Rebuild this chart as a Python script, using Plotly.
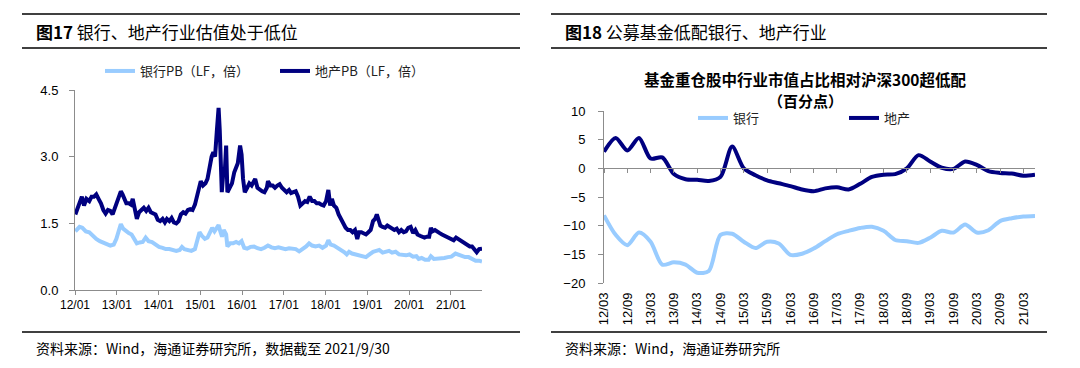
import plotly.graph_objects as go

# ---------------- data: left chart (PB, LF) ----------------
re_dates = [
    "2012-01-04", "2012-01-20", "2012-02-15", "2012-03-01", "2012-03-20", "2012-04-10", "2012-05-05", "2012-05-25",
    "2012-06-15", "2012-07-05", "2012-07-25", "2012-08-15", "2012-09-05", "2012-09-25", "2012-10-15", "2012-11-05",
    "2012-11-25", "2012-12-10", "2012-12-25", "2013-01-15", "2013-02-05", "2013-02-20", "2013-03-05", "2013-03-25",
    "2013-04-15", "2013-05-05", "2013-05-20", "2013-06-05", "2013-06-25", "2013-07-15", "2013-08-05", "2013-08-25",
    "2013-09-15", "2013-10-05", "2013-10-25", "2013-11-15", "2013-12-05", "2013-12-25", "2014-01-15", "2014-02-05",
    "2014-02-25", "2014-03-15", "2014-04-05", "2014-04-25", "2014-05-15", "2014-06-05", "2014-06-25", "2014-07-15",
    "2014-08-05", "2014-08-25", "2014-09-15", "2014-10-05", "2014-10-25", "2014-11-15", "2014-12-05", "2014-12-20",
    "2015-01-05", "2015-01-25", "2015-02-15", "2015-03-05", "2015-03-25", "2015-04-10", "2015-04-25", "2015-05-10",
    "2015-05-25", "2015-06-10", "2015-06-20", "2015-07-01", "2015-07-08", "2015-07-20", "2015-08-05", "2015-08-15",
    "2015-08-26", "2015-09-15", "2015-10-05", "2015-10-25", "2015-11-10", "2015-11-25", "2015-12-15", "2015-12-28",
    "2016-01-10", "2016-01-25", "2016-02-15", "2016-03-05", "2016-03-25", "2016-04-10", "2016-04-25", "2016-05-15",
    "2016-06-05", "2016-06-25", "2016-07-15", "2016-08-05", "2016-08-15", "2016-09-05", "2016-09-25", "2016-10-15",
    "2016-11-05", "2016-11-25", "2016-12-15", "2017-01-05", "2017-01-25", "2017-02-15", "2017-03-05", "2017-03-25",
    "2017-04-15", "2017-05-05", "2017-05-25", "2017-06-15", "2017-07-05", "2017-07-25", "2017-08-15", "2017-09-05",
    "2017-09-25", "2017-10-15", "2017-11-05", "2017-11-25", "2017-12-15", "2018-01-05", "2018-01-25", "2018-02-10",
    "2018-02-25", "2018-03-15", "2018-04-05", "2018-04-25", "2018-05-15", "2018-06-05", "2018-06-25", "2018-07-15",
    "2018-08-05", "2018-08-25", "2018-09-15", "2018-10-05", "2018-10-20", "2018-11-10", "2018-11-30", "2018-12-20",
    "2019-01-10", "2019-01-30", "2019-02-20", "2019-03-10", "2019-03-25", "2019-04-10", "2019-04-25", "2019-05-15",
    "2019-06-05", "2019-06-25", "2019-07-15", "2019-08-05", "2019-08-25", "2019-09-15", "2019-10-05", "2019-10-25",
    "2019-11-15", "2019-12-05", "2019-12-25", "2020-01-15", "2020-02-05", "2020-02-25", "2020-03-15", "2020-04-05",
    "2020-04-25", "2020-05-15", "2020-06-05", "2020-06-25", "2020-07-10", "2020-07-25", "2020-08-15", "2020-09-05",
    "2020-09-25", "2020-10-15", "2020-11-05", "2020-11-25", "2020-12-15", "2021-01-05", "2021-01-25", "2021-02-15",
    "2021-03-05", "2021-03-25", "2021-04-15", "2021-05-05", "2021-05-25", "2021-06-15", "2021-07-05", "2021-07-25",
    "2021-08-15", "2021-09-05", "2021-09-30",
]
re_pb = [
    1.70, 1.80, 1.95, 2.10, 1.90, 2.05, 2.00, 2.10,
    2.10, 2.15, 2.05, 1.95, 1.80, 1.72, 1.80, 1.78,
    1.70, 1.80, 1.95, 2.10, 2.22, 2.15, 2.05, 1.95,
    1.95, 1.92, 2.05, 1.85, 1.60, 1.75, 1.80, 1.85,
    1.78, 1.85, 1.75, 1.72, 1.70, 1.58, 1.55, 1.60,
    1.52, 1.60, 1.55, 1.62, 1.52, 1.50, 1.55, 1.70,
    1.75, 1.72, 1.80, 1.82, 1.80, 1.92, 2.15, 2.35,
    2.45, 2.35, 2.40, 2.50, 2.80, 3.00, 3.10, 3.00,
    3.55, 4.10, 3.60, 2.80, 2.20, 2.60, 2.75, 3.25,
    2.20, 2.30, 2.40, 2.65, 2.75, 2.85, 3.25, 3.05,
    2.50, 2.20, 2.30, 2.40, 2.35, 2.45, 2.50, 2.30,
    2.25, 2.22, 2.20, 2.30, 2.45, 2.35, 2.35, 2.30,
    2.35, 2.38, 2.30, 2.25, 2.20, 2.25, 2.18, 2.20,
    2.22, 2.10, 1.90, 1.95, 2.00, 1.98, 2.10, 2.00,
    2.00, 1.95, 1.95, 1.92, 1.90, 2.00, 2.25, 1.90,
    2.05, 1.90, 1.85, 1.70, 1.60, 1.50, 1.40, 1.35,
    1.35, 1.30, 1.35, 1.15, 1.30, 1.30, 1.28, 1.25,
    1.30, 1.35, 1.55, 1.60, 1.70, 1.60, 1.45, 1.42,
    1.40, 1.45, 1.42, 1.38, 1.35, 1.38, 1.30, 1.35,
    1.30, 1.32, 1.40, 1.42, 1.28, 1.35, 1.25, 1.22,
    1.20, 1.18, 1.20, 1.20, 1.40, 1.32, 1.35, 1.30,
    1.28, 1.25, 1.22, 1.20, 1.18, 1.15, 1.12, 1.18,
    1.15, 1.10, 1.08, 1.05, 1.02, 0.98, 0.98, 0.92,
    0.85, 0.92, 0.93,
]

bank_dates = [
    "2012-01-04", "2012-02-10", "2012-03-05", "2012-04-05", "2012-05-05", "2012-06-05", "2012-07-05", "2012-08-05",
    "2012-09-05", "2012-10-05", "2012-11-05", "2012-12-05", "2012-12-28", "2013-01-20", "2013-02-05", "2013-02-25",
    "2013-03-20", "2013-04-15", "2013-05-10", "2013-06-05", "2013-06-25", "2013-07-20", "2013-08-15", "2013-09-10",
    "2013-10-05", "2013-11-05", "2013-12-05", "2014-01-05", "2014-02-05", "2014-03-05", "2014-04-05", "2014-05-05",
    "2014-06-05", "2014-07-05", "2014-07-25", "2014-08-15", "2014-09-15", "2014-10-15", "2014-11-15", "2014-12-05",
    "2014-12-25", "2015-01-15", "2015-02-10", "2015-03-05", "2015-03-25", "2015-04-15", "2015-05-05", "2015-05-25",
    "2015-06-10", "2015-06-25", "2015-07-10", "2015-07-25", "2015-08-15", "2015-08-26", "2015-09-20", "2015-10-15",
    "2015-11-10", "2015-12-05", "2015-12-28", "2016-01-20", "2016-02-15", "2016-03-15", "2016-04-15", "2016-05-15",
    "2016-06-15", "2016-07-15", "2016-08-15", "2016-09-15", "2016-10-15", "2016-11-15", "2016-12-15", "2017-01-15",
    "2017-02-15", "2017-03-15", "2017-04-15", "2017-05-15", "2017-06-15", "2017-07-15", "2017-08-10", "2017-09-05",
    "2017-10-05", "2017-11-05", "2017-12-05", "2018-01-05", "2018-01-25", "2018-02-15", "2018-03-15", "2018-04-15",
    "2018-05-15", "2018-06-15", "2018-07-05", "2018-07-25", "2018-08-20", "2018-09-20", "2018-10-20", "2018-11-20",
    "2018-12-20", "2019-01-20", "2019-02-20", "2019-03-20", "2019-04-15", "2019-05-15", "2019-06-15", "2019-07-10",
    "2019-08-05", "2019-09-05", "2019-10-05", "2019-11-05", "2019-12-05", "2020-01-05", "2020-02-05", "2020-03-05",
    "2020-03-25", "2020-04-20", "2020-05-20", "2020-06-20", "2020-07-10", "2020-08-05", "2020-09-05", "2020-10-05",
    "2020-11-05", "2020-12-05", "2021-01-05", "2021-02-10", "2021-03-05", "2021-04-05", "2021-05-05", "2021-06-05",
    "2021-07-05", "2021-08-05", "2021-09-05", "2021-09-30",
]
bank_pb = [
    1.32, 1.42, 1.40, 1.32, 1.30, 1.22, 1.15, 1.10,
    1.07, 1.05, 1.00, 1.02, 1.15, 1.35, 1.48, 1.38,
    1.32, 1.28, 1.25, 1.15, 1.05, 1.07, 1.08, 1.18,
    1.10, 1.08, 1.02, 0.97, 0.95, 0.92, 0.92, 0.90,
    0.88, 0.90, 0.97, 0.92, 0.90, 0.88, 0.92, 1.15,
    1.30, 1.22, 1.15, 1.18, 1.30, 1.40, 1.32, 1.38,
    1.46, 1.32, 1.20, 1.35, 1.25, 0.98, 1.05, 1.05,
    1.08, 1.05, 1.10, 0.95, 0.93, 0.97, 0.98, 0.94,
    0.92, 0.95, 1.00, 0.96, 0.94, 0.96, 0.93, 0.92,
    0.94, 0.93, 0.92, 0.87, 0.92, 0.98, 1.05, 1.00,
    0.98, 1.00, 0.95, 1.00, 1.12, 1.02, 1.00, 0.95,
    0.92, 0.85, 0.80, 0.86, 0.82, 0.80, 0.80, 0.78,
    0.74, 0.80, 0.86, 0.88, 0.90, 0.84, 0.85, 0.88,
    0.84, 0.86, 0.80, 0.78, 0.78, 0.80, 0.75, 0.76,
    0.70, 0.72, 0.68, 0.68, 0.76, 0.70, 0.70, 0.72,
    0.72, 0.74, 0.75, 0.82, 0.80, 0.76, 0.74, 0.74,
    0.70, 0.66, 0.66, 0.64,
]
left_tick_dates = ["2012-01-01", "2013-01-01", "2014-01-01", "2015-01-01", "2016-01-01",
                   "2017-01-01", "2018-01-01", "2019-01-01", "2020-01-01", "2021-01-01"]
left_tick_text = ["12/01", "13/01", "14/01", "15/01", "16/01", "17/01", "18/01", "19/01", "20/01", "21/01"]
left_y_ticks = [0.0, 1.5, 3.0, 4.5]

# ---------------- data: right chart (quarterly, pct pts) ----------------
quarters = [
    "12/03", "12/06", "12/09", "12/12", "13/03", "13/06", "13/09", "13/12",
    "14/03", "14/06", "14/09", "14/12", "15/03", "15/06", "15/09", "15/12",
    "16/03", "16/06", "16/09", "16/12", "17/03", "17/06", "17/09", "17/12",
    "18/03", "18/06", "18/09", "18/12", "19/03", "19/06", "19/09", "19/12",
    "20/03", "20/06", "20/09", "20/12", "21/03", "21/06",
]
bank_ow = [
    -8.2, -11.6, -13.4, -11.2, -12.8, -16.8, -16.4, -16.8,
    -18.2, -17.9, -11.6, -11.4, -12.8, -13.9, -12.8, -13.1,
    -15.1, -14.9, -14.0, -12.7, -11.5, -10.9, -10.4, -10.2,
    -10.9, -12.5, -12.7, -13.0, -12.1, -10.9, -11.2, -9.8,
    -11.2, -10.8, -9.2, -8.7, -8.4, -8.3,
]
re_ow = [
    2.9, 5.3, 3.1, 5.3, 1.7, 1.9, -1.0, -1.9,
    -2.0, -2.2, -1.5, 3.8, 0.0, -1.2, -2.1, -2.6,
    -3.1, -3.7, -4.0, -3.5, -3.3, -3.7, -2.7, -1.5,
    -1.1, -1.0, 0.0, 2.3, 1.2, 0.1, -0.1, 1.2,
    0.6, -0.5, -0.8, -0.9, -1.3, -1.1,
]
right_tick_labels = quarters[0:37:2]
right_y_ticks = [-20, -15, -10, -5, 0, 5, 10]

# ---------------- figure ----------------
# the page body keeps its default 8px margin, so the figure is 8px in from the window edges
OFF = 8
W, H = 1080 - 2 * OFF, 368 - 2 * OFF
LIGHT = "#99CCFF"
DARK = "#000080"
AXC = "#8C8C8C"
CJK = "Noto Sans CJK SC"
NUM = "Liberation Sans, Arial, sans-serif"


def fx(p):
    # window pixel -> paper fraction
    return (p - OFF) / W


def fy(p):
    return 1 - (p - OFF) / H


fig = go.Figure()
fig.add_trace(go.Scatter(x=bank_dates, y=bank_pb, name="银行PB（LF，倍）", mode="lines",
                         line=dict(color=LIGHT, width=4), xaxis="x", yaxis="y", legend="legend"))
fig.add_trace(go.Scatter(x=re_dates, y=re_pb, name="地产PB（LF，倍）", mode="lines",
                         line=dict(color=DARK, width=4), xaxis="x", yaxis="y", legend="legend"))
fig.add_trace(go.Scatter(x=quarters, y=bank_ow, name="银行", mode="lines",
                         line=dict(color=LIGHT, width=4, shape="spline", smoothing=0.8),
                         xaxis="x2", yaxis="y2", legend="legend2"))
fig.add_trace(go.Scatter(x=quarters, y=re_ow, name="地产", mode="lines",
                         line=dict(color=DARK, width=4, shape="spline", smoothing=0.8),
                         xaxis="x2", yaxis="y2", legend="legend2"))
# helper trace that carries the category ticks drawn on the zero line
fig.add_trace(go.Scatter(x=quarters, y=[None] * len(quarters), mode="lines", showlegend=False,
                         hoverinfo="skip", xaxis="x3", yaxis="y2"))

# left plot area (window pixels)
L_X0, L_X1, L_Y0, L_Y1 = 75, 482, 90, 290
# right plot area
R_X0, R_X1, R_Y0, R_Y1 = 604, 1035, 111, 283
y2_dom = [fy(R_Y1), fy(R_Y0)]
y2_range = [-20, 10]
zero_pos = y2_dom[0] + (0 - y2_range[0]) / (y2_range[1] - y2_range[0]) * (y2_dom[1] - y2_dom[0])

fig.update_layout(
    width=W, height=H, margin=dict(l=0, r=0, t=0, b=0, autoexpand=False),
    paper_bgcolor="white", plot_bgcolor="white",
    font=dict(family=CJK, size=12, color="#000000"),
    xaxis=dict(domain=[fx(L_X0), fx(L_X1)], anchor="y", type="date", automargin=False,
               range=["2012-01-01", "2021-09-30"], tickvals=left_tick_dates, ticktext=left_tick_text,
               ticks="outside", ticklen=4, tickcolor=AXC, showline=True, linecolor=AXC, linewidth=1,
               showgrid=False, zeroline=False, tickfont=dict(family=NUM, size=12, color="#000000")),
    yaxis=dict(domain=[fy(L_Y1), fy(L_Y0)], anchor="x", range=[0, 4.5], tickvals=left_y_ticks,
               tickformat=".1f", ticks="outside", ticklen=5, tickcolor=AXC, showline=True, automargin=False,
               linecolor=AXC, linewidth=1, showgrid=False, zeroline=False, ticklabelstandoff=8,
               tickfont=dict(family=NUM, size=13, color="#000000")),
    xaxis2=dict(domain=[fx(R_X0), fx(R_X1)], anchor="y2", type="category", automargin=False,
                categoryorder="array", categoryarray=quarters, range=[0, len(quarters) - 1],
                tickvals=right_tick_labels, ticktext=right_tick_labels, tickangle=-90,
                ticks="", showline=False, showgrid=False, zeroline=False, ticklabelstandoff=6,
                tickfont=dict(family=NUM, size=13, color="#000000")),
    xaxis3=dict(domain=[fx(R_X0), fx(R_X1)], overlaying="x2", anchor="free", position=zero_pos,
                type="category", categoryorder="array", categoryarray=quarters, automargin=False,
                range=[0, len(quarters) - 1], tickvals=right_tick_labels, showticklabels=False,
                ticks="outside", ticklen=4, tickcolor=AXC, showline=True, linecolor=AXC,
                linewidth=1, showgrid=False, zeroline=False),
    yaxis2=dict(domain=y2_dom, anchor="x2", range=y2_range, tickvals=right_y_ticks, automargin=False,
                ticks="outside", ticklen=5, tickcolor=AXC, showline=True, linecolor=AXC,
                linewidth=1, showgrid=False, zeroline=False, ticklabelstandoff=10,
                tickfont=dict(family=NUM, size=13, color="#000000")),
    legend=dict(orientation="h", x=fx(100), y=fy(56), xanchor="left", yanchor="top",
                font=dict(family=CJK, size=13, color="#222222"), bgcolor="rgba(0,0,0,0)",
                entrywidth=130, entrywidthmode="pixels"),
    legend2=dict(orientation="h", x=fx(693), y=fy(103), xanchor="left", yanchor="top",
                 font=dict(family=CJK, size=13, color="#222222"), bgcolor="rgba(0,0,0,0)",
                 entrywidth=106, entrywidthmode="pixels"),
    showlegend=True,
)

# panel rules
line_style = dict(color="#000000", width=1.6)
for x0, x1 in [(22, 520), (551, 1047)]:
    for yy in [14, 48, 332]:
        fig.add_shape(type="line", xref="paper", yref="paper", x0=fx(x0), x1=fx(x1),
                      y0=fy(yy), y1=fy(yy), line=line_style)

# titles & notes
fig.add_annotation(x=fx(34), y=fy(32), xref="paper", yref="paper", xanchor="left", yanchor="middle",
                   text="<b>图17</b> 银行、地产行业估值处于低位", showarrow=False,
                   font=dict(family=CJK, size=17, color="#000000"))
fig.add_annotation(x=fx(563), y=fy(32), xref="paper", yref="paper", xanchor="left", yanchor="middle",
                   text="<b>图18</b> 公募基金低配银行、地产行业", showarrow=False,
                   font=dict(family=CJK, size=17, color="#000000"))
fig.add_annotation(x=fx(805), y=fy(79), xref="paper", yref="paper", xanchor="center", yanchor="middle",
                   text="<b>基金重仓股中行业市值占比相对沪深300超低配</b>", showarrow=False,
                   font=dict(family=CJK, size=15.5, color="#000000"))
fig.add_annotation(x=fx(805), y=fy(101), xref="paper", yref="paper", xanchor="center", yanchor="middle",
                   text="<b>（百分点）</b>", showarrow=False,
                   font=dict(family=CJK, size=15, color="#000000"))
fig.add_annotation(x=fx(34), y=fy(348), xref="paper", yref="paper", xanchor="left", yanchor="middle",
                   text="资料来源：Wind，海通证券研究所，数据截至 2021/9/30", showarrow=False,
                   font=dict(family=CJK, size=14, color="#000000"))
fig.add_annotation(x=fx(563), y=fy(348), xref="paper", yref="paper", xanchor="left", yanchor="middle",
                   text="资料来源：Wind，海通证券研究所", showarrow=False,
                   font=dict(family=CJK, size=14, color="#000000"))

fig.write_html("out.html")
